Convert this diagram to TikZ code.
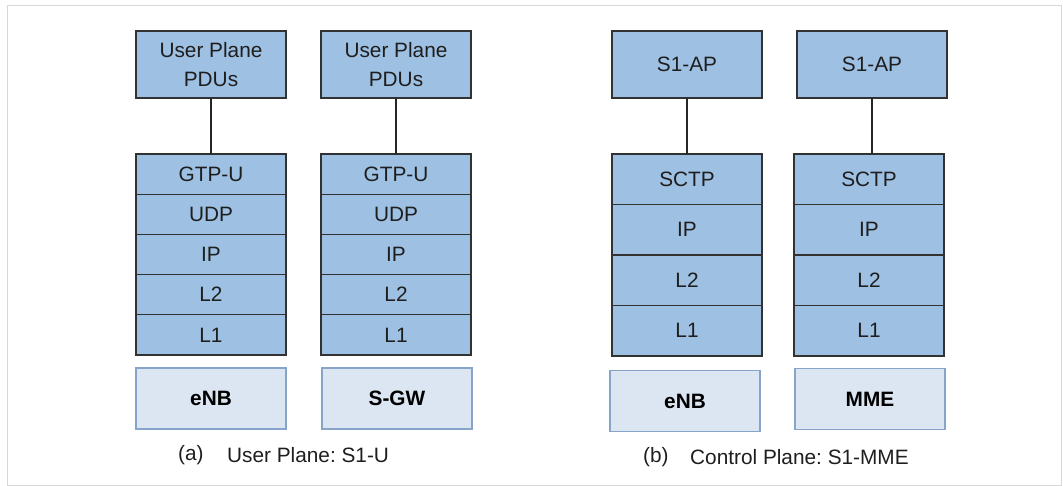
\documentclass[tikz,border=0pt]{standalone}
\usepackage{fontspec}
\setmainfont{Liberation Sans}
\frenchspacing
\definecolor{layerfill}{RGB}{158,192,226}
\definecolor{layerdraw}{RGB}{50,50,50}
\definecolor{hostfill}{RGB}{220,230,242}
\definecolor{hostdraw}{RGB}{135,165,200}
\definecolor{framegray}{RGB}{215,215,215}
\definecolor{textgray}{RGB}{30,30,30}
\tikzset{
  layer/.style={draw=layerdraw, fill=layerfill, line width=1.3pt, inner sep=0pt, outer sep=0pt,
    minimum width=150pt, align=center, text=textgray, font=\fontsize{20.8}{29}\selectfont},
  uprow/.style={layer, minimum height=40.2pt},
  cprow/.style={layer, minimum height=50.5pt},
  toplayer/.style={layer, minimum height=67pt},
  host/.style={draw=hostdraw, fill=hostfill, line width=1.4pt, inner sep=0pt, outer sep=0pt,
    minimum width=150pt, minimum height=61pt, text=black, font=\fontsize{20.8}{24}\selectfont\bfseries},
  link/.style={draw=black!85, line width=1.1pt},
  caption/.style={font=\fontsize{20.8}{24}\selectfont, text=textgray, inner sep=0pt, anchor=west}
}
\begin{document}
\begin{tikzpicture}[x=1pt,y=-1pt]
\useasboundingbox (0,0) rectangle (1063,486);
\draw[framegray, line width=1pt] (7,6) rectangle (1061,485);

% (a) user plane, eNB side
\node[toplayer] (upA) at (211,64.5) {User Plane\\PDUs};
\node[uprow] (gtpA) at (211,174.1) {GTP-U};
\node[uprow] (udpA) at (211,214.3) {UDP};
\node[uprow] (ipA)  at (211,254.5) {IP};
\node[uprow] (l2A)  at (211,294.7) {L2};
\node[uprow] (l1A)  at (211,334.9) {L1};
\node[host]  (enbA) at (211,398.5) {eNB};
\draw[link] (upA.south) -- (gtpA.north);

% (a) user plane, S-GW side
\node[toplayer] (upB) at (396,64.5) {User Plane\\PDUs};
\node[uprow] (gtpB) at (396,174.1) {GTP-U};
\node[uprow] (udpB) at (396,214.3) {UDP};
\node[uprow] (ipB)  at (396,254.5) {IP};
\node[uprow] (l2B)  at (396,294.7) {L2};
\node[uprow] (l1B)  at (396,334.9) {L1};
\node[host]  (sgw)  at (397,398.5) {S-GW};
\draw[link] (upB.south) -- (gtpB.north);

\node[caption] (capA1) at (178,455) {(a)};
\node[caption] (capA2) at (227,455) {User Plane: S1-U};

% (b) control plane, eNB side
\node[toplayer] (apC) at (687,64.5) {S1-AP};
\node[cprow] (sctpC) at (687,179.25) {SCTP};
\node[cprow] (ipC)   at (687,229.75) {IP};
\node[cprow] (l2C)   at (687,280.25) {L2};
\node[cprow] (l1C)   at (687,330.75) {L1};
\node[host]  (enbC)  at (685,401) {eNB};
\draw[link] (apC.south) -- (sctpC.north);

% (b) control plane, MME side
\node[toplayer] (apD) at (872,64.5) {S1-AP};
\node[cprow] (sctpD) at (869,179.25) {SCTP};
\node[cprow] (ipD)   at (869,229.75) {IP};
\node[cprow] (l2D)   at (869,280.25) {L2};
\node[cprow] (l1D)   at (869,330.75) {L1};
\node[host]  (mme)   at (870,399) {MME};
\draw[link] (apD.south) -- (apD.south |- sctpD.north);

\node[caption] (capB1) at (643,457) {(b)};
\node[caption] (capB2) at (690,457) {Control Plane: S1-MME};
\end{tikzpicture}
\end{document}
